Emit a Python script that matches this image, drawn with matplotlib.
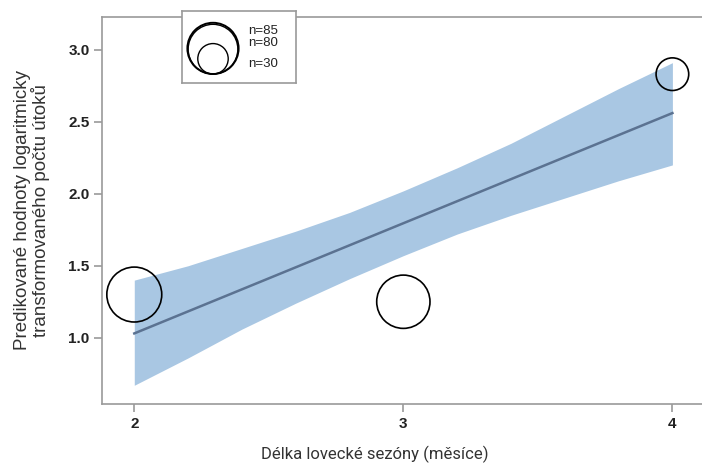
import numpy as np
import matplotlib
matplotlib.use('Agg')
import matplotlib.pyplot as plt

# data
band_x = [2.0, 2.2, 2.4, 2.6, 2.8, 3.0, 3.2, 3.4, 3.6, 3.8, 4.0]
band_lo = [0.67, 0.86, 1.06, 1.24, 1.41, 1.57, 1.72, 1.85, 1.97, 2.09, 2.20]
band_hi = [1.40, 1.50, 1.62, 1.74, 1.87, 2.02, 2.18, 2.35, 2.54, 2.73, 2.91]
fit_x = [2.0, 4.0]
fit_y = [1.03, 2.56]
obs_x = [2, 3, 4]
obs_y = [1.30, 1.25, 2.83]
obs_n = [85, 80, 30]
legend_n = [85, 80, 30]
legend_labels = ['n=85', 'n=80', 'n=30']
xticks = [2, 3, 4]
yticks = [1.0, 1.5, 2.0, 2.5, 3.0]

W, H = 702, 465
fig = plt.figure(figsize=(W / 100, H / 100), dpi=100)
ax = fig.add_axes([102 / W, (H - 404) / H, 1 - 102 / W, (404 - 17) / H])

size_k = 18.4  # marker area per observation (pt^2)
grey = '#9a9a9a'

ax.fill_between(band_x, band_lo, band_hi, color='#a9c7e3', lw=0, zorder=1)
ax.plot(fit_x, fit_y, color='#5b7291', lw=1.8, zorder=2)
ax.scatter(obs_x, obs_y, s=[n * size_k for n in obs_n], facecolors='none',
           edgecolors='black', linewidths=1.2, zorder=3, clip_on=False)

ax.set_xlim(1.88, 4.11)
ax.set_ylim(0.54, 3.227)
ax.set_xticks(xticks)
ax.set_yticks(yticks)
ax.set_xticklabels([str(v) for v in xticks])
ax.set_yticklabels(['%.1f' % v for v in yticks])
for lab in ax.get_xticklabels() + ax.get_yticklabels():
    lab.set_fontfamily('Liberation Sans')
    lab.set_fontweight('bold')
    lab.set_fontsize(11)
    lab.set_color('#222222')
ax.tick_params(direction='out', length=6, width=1.2, color=grey, pad=3)
for side in ['left', 'bottom', 'top']:
    ax.spines[side].set_color(grey)
    ax.spines[side].set_linewidth(1.2)
ax.spines['right'].set_visible(False)

ax.set_xlabel('Délka lovecké sezóny (měsíce)', fontfamily='Roboto',
              fontsize=12, color='#333333')
ax.xaxis.set_label_coords((375 - 102) / 600, -0.108)
ax.set_ylabel('Predikované hodnoty logaritmicky\ntransformovaného počtu útoků',
              fontfamily='Liberation Sans', fontsize=13.5, color='#333333',
              linespacing=0.98)
ax.yaxis.set_label_coords(-0.087, 0.5)

# size legend box
lx0, ly0, lw_, lh_ = 182, 11, 114, 72
lax = fig.add_axes([lx0 / W, (H - ly0 - lh_) / H, lw_ / W, lh_ / H])
lax.set_xlim(0, lw_)
lax.set_ylim(lh_, 0)
lax.set_xticks([])
lax.set_yticks([])
for sp in lax.spines.values():
    sp.set_color(grey)
    sp.set_linewidth(1.2)
bottom_px = 63
leg_k = 16.0  # legend circles are drawn a little smaller
for i, n in enumerate(legend_n):
    r_px = np.sqrt(n * leg_k) / 0.72 / 2
    lax.scatter([31], [bottom_px - r_px], s=n * leg_k, facecolors='none',
                edgecolors='black', linewidths=1.4 if i == 0 else 1.0, clip_on=False)
text_y = [20, 32, 53]
for lab, ty in zip(legend_labels, text_y):
    lax.text(66, ty, lab, fontfamily='Liberation Sans', fontsize=9.5,
             color='#222222', va='center')

fig.savefig('out.png', dpi=100)
